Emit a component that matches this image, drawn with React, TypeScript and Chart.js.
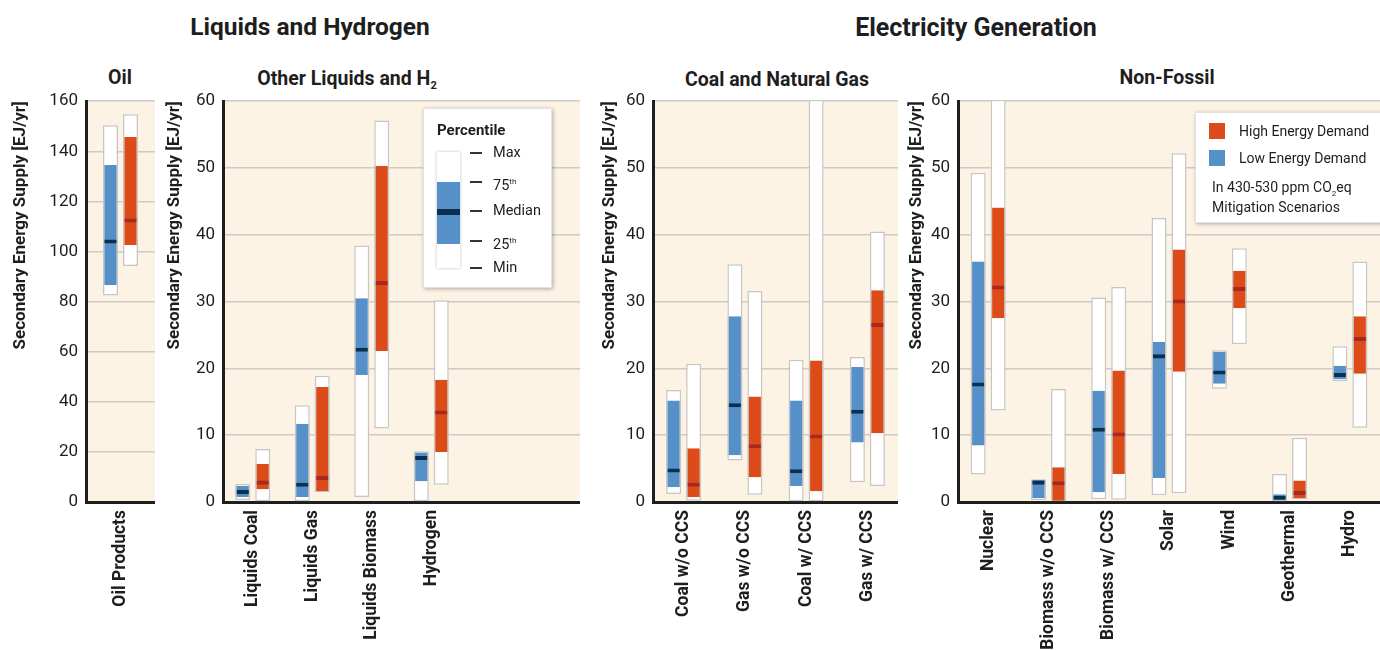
import React, { useEffect, useRef } from 'react';
import { Chart, registerables } from 'chart.js';

Chart.register(...registerables);

// Each row: [min, 25th, median, 75th, max] in EJ/yr (null = empty slot)
type Row = number[] | null;

const oilCategories = ['Oil Products'];
const oilLow: Row[] = [[82.4, 86.6, 104, 134.5, 150.4]];
const oilHigh: Row[] = [[94.2, 102.6, 112.4, 145.7, 154.8]];

const liqCategories = ['Liquids Coal', 'Liquids Gas', 'Liquids Biomass', 'Hydrogen', '', ''];
const liqLow: Row[] = [
  [0.3, 0.75, 1.5, 2.4, 2.7],
  [0.1, 0.75, 2.6, 11.7, 14.5],
  [0.75, 19.0, 22.8, 30.5, 38.4],
  [0.1, 3.1, 6.6, 7.4, 7.6],
  null,
  null,
];
const liqHigh: Row[] = [
  [0.1, 1.9, 2.9, 5.7, 7.95],
  [1.5, 1.6, 3.6, 17.2, 18.9],
  [11.0, 22.6, 32.8, 50.3, 57.1],
  [2.6, 7.5, 13.4, 18.3, 30.2],
  null,
  null,
];

const fossilCategories = ['Coal w/o CCS', 'Gas w/o CCS', 'Coal w/ CCS', 'Gas w/ CCS'];
const fossilLow: Row[] = [
  [1.2, 2.2, 4.7, 15.2, 16.75],
  [6.2, 7.0, 14.5, 27.8, 35.6],
  [0.1, 2.4, 4.6, 15.2, 21.3],
  [2.95, 8.9, 13.5, 20.2, 21.7],
];
const fossilHigh: Row[] = [
  [0.2, 0.7, 2.6, 8.05, 20.7],
  [1.1, 3.7, 8.35, 15.8, 31.6],
  [0.1, 1.6, 9.8, 21.2, 63],
  [2.4, 10.3, 26.5, 31.7, 40.5],
];

const nonFossilCategories = ['Nuclear', 'Biomass w/o CCS', 'Biomass w/ CCS', 'Solar', 'Wind', 'Geothermal', 'Hydro'];
const nonFossilLow: Row[] = [
  [4.1, 8.45, 17.6, 36.0, 49.3],
  [0.3, 0.6, 2.9, 3.3, 3.4],
  [0.4, 1.45, 10.8, 16.65, 30.6],
  [1.0, 3.6, 21.8, 24.0, 42.5],
  [16.95, 17.7, 19.4, 22.5, 22.7],
  [0.1, 0.3, 0.65, 1.15, 4.2],
  [18.1, 18.4, 19.0, 20.4, 23.3],
];
const nonFossilHigh: Row[] = [
  [13.7, 27.5, 32.1, 44.1, 63],
  [0.1, 0.2, 2.8, 5.2, 16.9],
  [0.35, 4.2, 10.1, 19.7, 32.2],
  [1.3, 19.5, 30.0, 37.8, 52.2],
  [23.6, 29.0, 31.9, 34.6, 38.0],
  [0.4, 0.6, 1.35, 3.2, 9.6],
  [11.1, 19.2, 24.4, 27.8, 36.0],
];

const FONT = 'Roboto, "Open Sans", sans-serif';
const INK = '#1e1e1e';
const CREAM = '#fdf3e5';
const GRID = '#cfcac3';
const EDGE = '#c6c6c6';
const BLUE = '#5590c8';
const NAVY = '#0b2f4f';
const ORANGE = '#dd4b19';
const DARKRED = '#a8291f';

const CANVAS_TOP = 83;
const CANVAS_H = 567;
const X_AXIS_H = 148;

interface PanelSpec {
  left: number;
  width: number;
  yWidth: number;
  yMax: number;
  step: number;
  catPct: number;
  categories: string[];
  low: Row[];
  high: Row[];
}

function buildDatasets(low: Row[], high: Row[], yMax: number) {
  const h = yMax * 0.005;
  const side = { left: 1.5, right: 1.5, top: 0, bottom: 0 };
  const make = (rows: Row[], stack: string, fill: string, med: string) => [
    {
      label: stack + ' range',
      stack,
      order: 3,
      data: rows.map((r) => (r ? [r[0], r[4]] : null)),
      backgroundColor: '#ffffff',
      borderColor: EDGE,
      borderWidth: 1.5,
      borderSkipped: false,
    },
    {
      label: stack + ' iqr',
      stack,
      order: 2,
      data: rows.map((r) => (r ? [r[1], r[3]] : null)),
      backgroundColor: fill,
      borderColor: EDGE,
      borderWidth: side,
      borderSkipped: false,
    },
    {
      label: stack + ' median',
      stack,
      order: 1,
      data: rows.map((r) => (r ? [r[2] - h, r[2] + h] : null)),
      backgroundColor: med,
      borderColor: EDGE,
      borderWidth: side,
      borderSkipped: false,
    },
  ];
  return [...make(low, 'low', BLUE, NAVY), ...make(high, 'high', ORANGE, DARKRED)];
}

const bgPlugin = {
  id: 'plotBg',
  beforeDraw(chart: any) {
    const { ctx, chartArea } = chart;
    ctx.save();
    ctx.fillStyle = CREAM;
    ctx.fillRect(chartArea.left, chartArea.top, chartArea.right - chartArea.left, chartArea.bottom - chartArea.top);
    ctx.restore();
  },
};

function Panel({ spec }: { spec: PanelSpec }) {
  const ref = useRef<HTMLCanvasElement>(null);
  useEffect(() => {
    if (!ref.current) return;
    const chart = new Chart(ref.current, {
      type: 'bar',
      data: {
        labels: spec.categories,
        datasets: buildDatasets(spec.low, spec.high, spec.yMax) as any,
      },
      options: {
        responsive: false,
        animation: false,
        devicePixelRatio: 1,
        layout: { padding: { top: 10, right: 0, left: 0, bottom: 0 } },
        datasets: { bar: { categoryPercentage: spec.catPct, barPercentage: 0.75 } },
        plugins: {
          legend: { display: false },
          tooltip: { enabled: false },
          title: { display: false },
        },
        scales: {
          x: {
            grid: { display: false, drawTicks: false },
            border: { display: true, color: INK, width: 3 },
            ticks: {
              autoSkip: false,
              minRotation: 90,
              maxRotation: 90,
              padding: 8,
              color: INK,
              font: { family: FONT, size: 17.5, weight: 'bold' },
            },
            afterFit: (s: any) => {
              s.height = X_AXIS_H;
            },
          },
          y: {
            stacked: false,
            min: 0,
            max: spec.yMax,
            ticks: {
              stepSize: spec.step,
              padding: 8,
              color: INK,
              font: { family: FONT, size: 17 },
            },
            grid: { color: GRID, lineWidth: 1.5, drawTicks: false },
            border: { display: true, color: INK, width: 3 },
            title: {
              display: true,
              text: 'Secondary Energy Supply [EJ/yr]',
              align: 'end',
              color: INK,
              padding: { top: 8, bottom: 0 },
              font: { family: FONT, size: 17, weight: 'bold' },
            },
            afterFit: (s: any) => {
              s.width = spec.yWidth;
            },
          },
        },
      } as any,
      plugins: [bgPlugin],
    });
    return () => chart.destroy();
  }, []);
  return (
    <canvas
      ref={ref}
      width={spec.width}
      height={CANVAS_H}
      style={{ position: 'absolute', left: spec.left, top: CANVAS_TOP, width: spec.width, height: CANVAS_H }}
    />
  );
}

const panels: PanelSpec[] = [
  { left: 3, width: 152, yWidth: 83, yMax: 160, step: 20, catPct: 40 / 69, categories: oilCategories, low: oilLow, high: oilHigh },
  { left: 157, width: 423, yWidth: 66, yMax: 60, step: 10, catPct: 40 / 59.5, categories: liqCategories, low: liqLow, high: liqHigh },
  { left: 592, width: 306, yWidth: 61, yMax: 60, step: 10, catPct: 40 / 61.25, categories: fossilCategories, low: fossilLow, high: fossilHigh },
  { left: 899, width: 481, yWidth: 59, yMax: 60, step: 10, catPct: 40 / 60.3, categories: nonFossilCategories, low: nonFossilLow, high: nonFossilHigh },
];

function Centered({ x, y, size, children }: { x: number; y: number; size: number; children: React.ReactNode }) {
  return (
    <div
      style={{
        position: 'absolute',
        left: x,
        top: y,
        transform: 'translate(-50%, -50%)',
        whiteSpace: 'nowrap',
        fontFamily: FONT,
        fontWeight: 700,
        fontSize: size,
        color: INK,
        lineHeight: 1,
      }}
    >
      {children}
    </div>
  );
}

const abs = (l: number, t: number, extra: React.CSSProperties = {}): React.CSSProperties => ({
  position: 'absolute',
  left: l,
  top: t,
  ...extra,
});

function PercentileLegend() {
  const rows: [number, React.ReactNode][] = [
    [153, 'Max'],
    [182, <span>75<sup style={{ fontSize: 8 }}>th</sup></span>],
    [211, 'Median'],
    [241, <span>25<sup style={{ fontSize: 8 }}>th</sup></span>],
    [268, 'Min'],
  ];
  return (
    <>
      <div
        style={abs(423, 108, {
          width: 129,
          height: 180,
          background: '#fff',
          boxShadow: '1px 1px 4px rgba(0,0,0,0.3)',
          border: '1px solid #e2e2e2',
          boxSizing: 'border-box',
        })}
      />
      <div style={abs(437, 121, { fontFamily: FONT, fontWeight: 700, fontSize: 15, color: INK, lineHeight: '18px' })}>Percentile</div>
      <div style={abs(437, 152, { width: 23, height: 116, background: '#fff', boxShadow: '0 0 3px rgba(0,0,0,0.25)' })} />
      <div style={abs(437, 182, { width: 23, height: 62, background: BLUE })} />
      <div style={abs(437, 209, { width: 23, height: 6, background: NAVY })} />
      {rows.map(([y, label], i) => (
        <React.Fragment key={i}>
          <div style={abs(470, y - 1, { width: 12, height: 2, background: '#333' })} />
          <div
            style={abs(493, y - 9, {
              fontFamily: FONT,
              fontSize: 14.5,
              color: INK,
              lineHeight: '18px',
              whiteSpace: 'nowrap',
            })}
          >
            {label}
          </div>
        </React.Fragment>
      ))}
    </>
  );
}

function DemandLegend() {
  const txt: React.CSSProperties = { fontFamily: FONT, fontSize: 14, color: INK, lineHeight: '18px', whiteSpace: 'nowrap' };
  return (
    <>
      <div
        style={abs(1195, 112, {
          width: 200,
          height: 111,
          background: '#fff',
          boxShadow: '1px 1px 4px rgba(0,0,0,0.3)',
          border: '1px solid #e2e2e2',
          boxSizing: 'border-box',
        })}
      />
      <div style={abs(1209, 123, { width: 16, height: 16, background: ORANGE })} />
      <div style={abs(1239, 122, txt)}>High Energy Demand</div>
      <div style={abs(1209, 150, { width: 16, height: 16, background: BLUE })} />
      <div style={abs(1239, 149, txt)}>Low Energy Demand</div>
      <div style={abs(1212, 178, txt)}>
        In 430-530 ppm CO<sub style={{ fontSize: 8 }}>2</sub>eq
      </div>
      <div style={abs(1212, 198, txt)}>Mitigation Scenarios</div>
    </>
  );
}

export default function App() {
  return (
    <div
      style={{
        position: 'absolute',
        left: 0,
        top: 0,
        width: 1380,
        height: 650,
        overflow: 'hidden',
        background: '#ffffff',
      }}
    >
      <Centered x={310} y={27} size={24.5}>Liquids and Hydrogen</Centered>
      <Centered x={976} y={27} size={25}>Electricity Generation</Centered>
      <Centered x={120} y={78} size={19.5}>Oil</Centered>
      <Centered x={347} y={80} size={19.5}>
        Other Liquids and H<sub style={{ fontSize: 11 }}>2</sub>
      </Centered>
      <Centered x={777} y={80} size={19.5}>Coal and Natural Gas</Centered>
      <Centered x={1167} y={78} size={19.5}>Non-Fossil</Centered>
      {panels.map((p, i) => (
        <Panel key={i} spec={p} />
      ))}
      <PercentileLegend />
      <DemandLegend />
    </div>
  );
}
